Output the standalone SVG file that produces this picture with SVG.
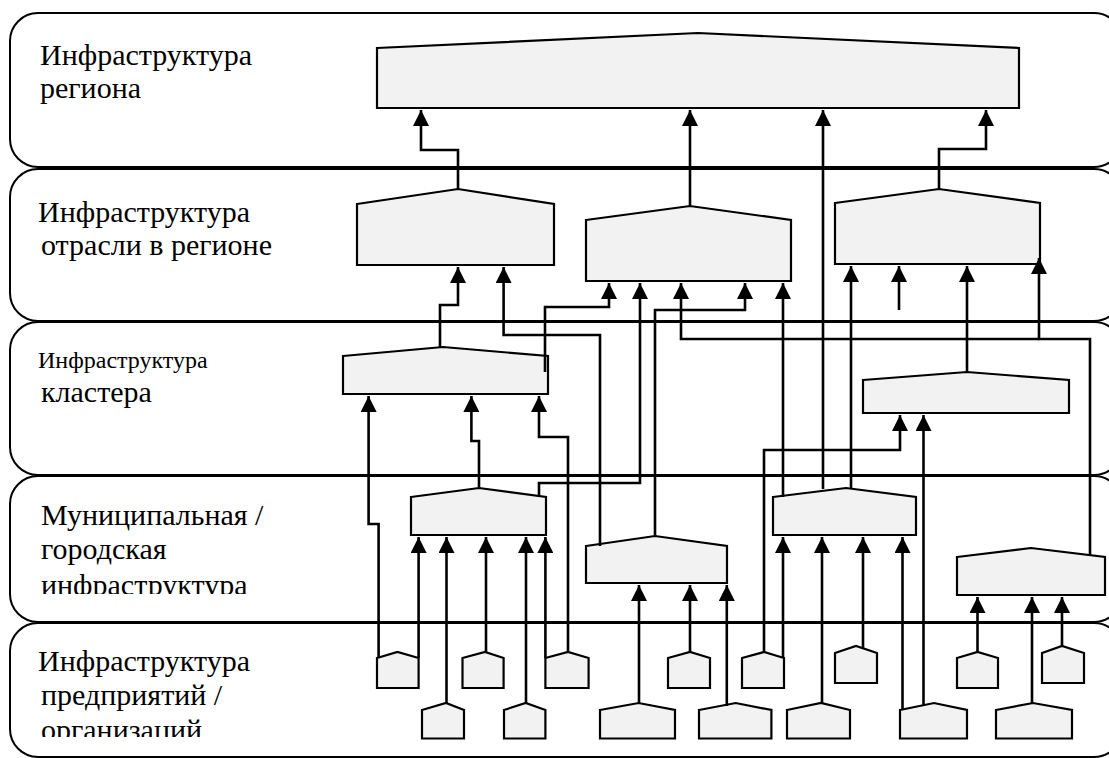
<svg xmlns="http://www.w3.org/2000/svg" width="1109" height="758" viewBox="0 0 1109 758">
<style>
.band{fill:none;stroke:#000;stroke-width:2}
.node{fill:#f2f2f2;stroke:#000;stroke-width:2.2}
.conn{fill:none;stroke:#000;stroke-width:2.6}
</style>
<defs>
<marker id="ah" markerUnits="userSpaceOnUse" markerWidth="16" markerHeight="16" viewBox="0 0 15 15" refX="15" refY="7.5" orient="auto">
<path d="M0,0 L15,7.5 L0,15 z" fill="#000"/>
</marker>
<clipPath id="clip4"><rect x="0" y="480" width="340" height="114"/></clipPath>
<clipPath id="clip5"><rect x="0" y="630" width="340" height="107"/></clipPath>
</defs>
<rect width="1109" height="758" fill="#fff"/>
<g id="bands">
<rect class="band" x="10" y="13" width="1112" height="154" rx="28" ry="28"/>
<rect class="band" x="10" y="169" width="1112" height="152" rx="28" ry="28"/>
<rect class="band" x="10" y="322" width="1112" height="153" rx="28" ry="28"/>
<rect class="band" x="10" y="476" width="1112" height="146" rx="28" ry="28"/>
<rect class="band" x="10" y="623" width="1112" height="134" rx="28" ry="28"/>
</g>
<g id="labels" font-family="Liberation Serif, Times New Roman, DejaVu Serif, serif" font-size="30" fill="#000">
<text x="40" y="65">Инфраструктура</text>
<text x="40" y="98">региона</text>
<text x="38" y="222">Инфраструктура</text>
<text x="41" y="255">отрасли в регионе</text>
<text x="38" y="368" font-size="24">Инфраструктура</text>
<text x="41" y="402">кластера</text>
<g clip-path="url(#clip4)">
<text x="41" y="525">Муниципальная /</text>
<text x="41" y="559">городская</text>
<text x="41" y="595">инфраструктура</text>
</g>
<g clip-path="url(#clip5)">
<text x="38" y="671">Инфраструктура</text>
<text x="41" y="705">предприятий /</text>
<text x="41" y="740">организаций</text>
</g>
</g>
<g id="n-region"><polygon class="node" points="377,48 698,33 1019,48 1019,108 377,108"/></g>
<g id="n-sector1"><polygon class="node" points="357,204 458,189 554,204 554,265 357,265"/></g>
<g id="n-sector2"><polygon class="node" points="586,220 690,206 791,220 791,281 586,281"/></g>
<g id="n-sector3"><polygon class="node" points="835,203 939,189 1040,203 1040,264 835,264"/></g>
<g id="n-cluster1"><polygon class="node" points="343,356 443,347 548,356 548,394 343,394"/></g>
<g id="n-cluster2"><polygon class="node" points="863,380 967,372 1069,380 1069,413 863,413"/></g>
<g id="n-muni1"><polygon class="node" points="411,497 479,488 546,497 546,535 411,535"/></g>
<g id="n-muni2"><polygon class="node" points="586,546 655,536 727,546 727,583 586,583"/></g>
<g id="n-muni3"><polygon class="node" points="773,497 846,488 916,497 916,535 773,535"/></g>
<g id="n-muni4"><polygon class="node" points="957,557 1031,548 1105,557 1105,595 957,595"/></g>
<g id="n-entA"><polygon class="node" points="377,658 397.5,652 418.6,658 418.6,688 377,688"/></g>
<g id="n-entB"><polygon class="node" points="462.5,658 485,652 503.6,658 503.6,688 462.5,688"/></g>
<g id="n-entC"><polygon class="node" points="545.4,658 568,652 588.6,658 588.6,688 545.4,688"/></g>
<g id="n-entF"><polygon class="node" points="668,658 690,652 710,658 710,688 668,688"/></g>
<g id="n-entG"><polygon class="node" points="742,658 764,652 784,658 784,688 742,688"/></g>
<g id="n-entH"><polygon class="node" points="835,653 856,646 877,653 877,683 835,683"/></g>
<g id="n-entI"><polygon class="node" points="957,658 977.5,652 998,658 998,688 957,688"/></g>
<g id="n-entJ"><polygon class="node" points="1042,653 1062,646 1084,653 1084,683 1042,683"/></g>
<g id="n-entD"><polygon class="node" points="422,710 446,703 464,710 464,738.5 422,738.5"/></g>
<g id="n-entE"><polygon class="node" points="504,710 525.7,703 545.4,710 545.4,738.5 504,738.5"/></g>
<g id="n-entK"><polygon class="node" points="600,710 638.6,703 675,710 675,738.5 600,738.5"/></g>
<g id="n-entL"><polygon class="node" points="699,710 735.7,703 771.4,710 771.4,738.5 699,738.5"/></g>
<g id="n-entM"><polygon class="node" points="787,710 821,703 850,710 850,738.5 787,738.5"/></g>
<g id="n-entN"><polygon class="node" points="900,710 934,703 967,710 967,738.5 900,738.5"/></g>
<g id="n-entO"><polygon class="node" points="996,710 1033,703 1072,710 1072,738.5 996,738.5"/></g>
<g id="connectors" class="conn" marker-end="url(#ah)">
<polyline points="458,189 458,150 421,150 421,110"/>
<polyline points="690,206 690,110"/>
<polyline points="823,489 823,110"/>
<polyline points="939,189 939,149 986,149 986,110"/>
<polyline points="440,348 440,305 458,305 458,267"/>
<polyline points="600,546 600,335 503.6,335 503.6,267"/>
<polyline points="545,372 545,307 609,307 609,283"/>
<polyline points="539,497 539,483 640,483 640,283"/>
<polyline points="1039,339 681,339 681,283"/>
<polyline points="1090,556 1090,339 1039,339 1039,258"/>
<polyline points="655,536 655,310 745,310 745,283"/>
<polyline points="783,497 783,283"/>
<polyline points="851,489 851,266"/>
<polyline points="899,310 899,266"/>
<polyline points="967,372 967,266"/>
<polyline points="378.6,658 378.6,524 368.6,524 368.6,396"/>
<polyline points="479,488 479,441 471.4,441 471.4,396"/>
<polyline points="568,652 568,437 539,437 539,396"/>
<polyline points="764,652 764,450 900,450 900,415"/>
<polyline points="923.5,706 923.5,415"/>
<polyline points="418.6,658 418.6,537"/>
<polyline points="446.5,703 446.5,537"/>
<polyline points="486,652 486,537"/>
<polyline points="526,703 526,537"/>
<polyline points="545.4,658 545.4,537"/>
<polyline points="639,703 639,585"/>
<polyline points="690,652 690,585"/>
<polyline points="726.8,706 726.8,585"/>
<polyline points="783,658 783,537"/>
<polyline points="822,703 822,537"/>
<polyline points="863,648 863,537"/>
<polyline points="902.5,710 902.5,537"/>
<polyline points="977.5,652 977.5,597"/>
<polyline points="1032,703 1032,597"/>
<polyline points="1062,646 1062,597"/>
</g>
</svg>
